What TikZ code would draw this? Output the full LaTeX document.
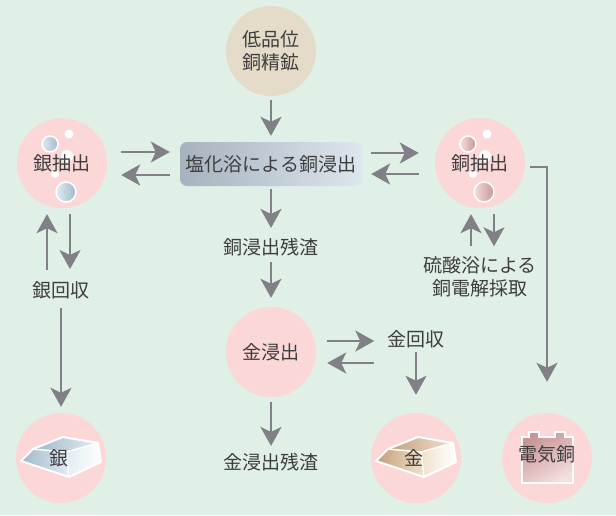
\documentclass[tikz,border=0pt]{standalone}
\usepackage{fontspec}
\setmainfont{Noto Sans CJK JP}
\usetikzlibrary{arrows.meta, positioning, calc}

\definecolor{bgmint}{RGB}{224,240,230}
\definecolor{discpink}{RGB}{252,215,215}
\definecolor{orebeige}{RGB}{229,219,201}
\definecolor{arrgray}{RGB}{128,128,134}
\definecolor{txtgray}{RGB}{62,62,62}
\definecolor{agDark}{RGB}{160,184,200}
\definecolor{agLight}{RGB}{226,236,243}
\definecolor{boxDark}{RGB}{166,178,189}
\definecolor{boxLight}{RGB}{222,230,238}
\definecolor{auDark}{RGB}{192,160,122}
\definecolor{auLight}{RGB}{242,225,205}
\definecolor{cuDark}{RGB}{200,148,150}
\definecolor{cuLight}{RGB}{244,222,222}

% bubbles inside an extraction disc
\newcommand{\bubbles}[3]{%
  \begin{scope}[shift={(#1)}]
    \fill[white] (7,-29) circle (4.5);
    \fill[white] (5,-7) circle (6);
    \fill[white] (-7,11) circle (4);
    \shade[draw=white, line width=1.5pt, left color=#3, right color=#2] (-12,-19) circle (8);
    \shade[draw=white, line width=1.5pt, left color=#3, right color=#2] (4,29) circle (10);
  \end{scope}}

% metal ingot on a disc
\newcommand{\ingot}[3]{%
  \begin{scope}[shift={(#1)}]
    \shade[left color=#2, right color=#3] (-40,3) -- (-28,-9) -- (5,-6) -- (8,19) -- cycle;
    \shade[left color=#2, right color=#3] (-28,-9) -- (2,-21) -- (37,-15) -- (5,-6) -- cycle;
    \shade[left color=#3, right color=white] (5,-6) -- (37,-15) -- (40,4) -- (8,19) -- cycle;
    \draw[white, line width=2pt, line join=round] (-40,3) -- (-28,-9) -- (2,-21) -- (37,-15) -- (40,4) -- (8,19) -- cycle;
    \draw[white, line width=1.5pt] (-28,-9) -- (5,-6) -- (37,-15) (5,-6) -- (8,19);
  \end{scope}}

\begin{document}
\begin{tikzpicture}[x=1pt, y=-1pt,
  disc/.style={circle, fill=discpink, minimum size=90pt, inner sep=0pt},
  txt/.style={text=txtgray, font=\fontsize{19pt}{23.5pt}\selectfont, align=center, inner sep=1pt},
  arr/.style={draw=arrgray, line width=2.6pt, -{Stealth[length=19pt,width=21pt,inset=5pt]}}]

\fill[bgmint] (0,0) rectangle (616,515);
\useasboundingbox (0,0) rectangle (616,515);

% Ore and chloride leaching
\node[disc, fill=orebeige, txt] (ore) at (271,51) {低品位\\銅精鉱};
\node[txt, rounded corners=7pt, minimum width=182pt, minimum height=44pt,
      left color=boxDark, right color=boxLight] (leach) at (271,164) {塩化浴による銅浸出};

% Extraction discs
\node[disc] (silv) at (62,163) {};
\bubbles{silv}{agDark}{agLight}
\node[txt] (silvtxt) at (silv) {銀抽出};

\node[disc] (copx) at (480,163) {};
\bubbles{copx}{cuDark}{cuLight}
\node[txt] (copxtxt) at (copx) {銅抽出};

% Residues and recoveries
\node[txt] (res1) at (271,247) {銅浸出残渣};
\node[disc, txt] (goldlx) at (271,352) {金浸出};
\node[txt] (goldrec) at (416,339) {金回収};
\node[txt] (res2) at (271,462) {金浸出残渣};
\node[txt] (silrec) at (61,290) {銀回収};
\node[txt] (elec) at (480,277) {硫酸浴による\\銅電解採取};

% Products
\node[disc] (silver) at (61,458) {};
\ingot{silver}{agDark}{agLight}
\node[txt] (silvertxt) at ([xshift=-2pt]silver) {銀};

\node[disc] (gold) at (416,458) {};
\ingot{gold}{auDark}{auLight}
\node[txt] (goldtxt) at ([xshift=-2pt]gold) {金};

\node[disc] (cath) at (547,458) {};
\shade[draw=white, line width=1.5pt, left color=cuDark, right color=cuLight, shading angle=30]
  ($(cath)+(-25,25)$) -- ++(0,-46) -- ++(7,0) -- ++(0,-5) -- ++(10,0) -- ++(0,5)
  -- ++(16,0) -- ++(0,-5) -- ++(10,0) -- ++(0,5) -- ++(8,0) -- ++(0,46) -- cycle;
\node[txt] (cathtxt) at ([yshift=4pt]cath) {電気銅};

% Flow arrows
\draw[arr, shorten <=4pt, shorten >=6pt] (ore) -- (leach);

\draw[arr, shorten <=14pt, shorten >=10pt] ([yshift=11pt]silv.east) -- ([yshift=11pt]silv.east -| leach.west);
\draw[arr, shorten <=10pt, shorten >=14pt] ([yshift=-11pt]leach.west) -- ([yshift=-11pt]leach.west -| silv.east);
\draw[arr, shorten <=9pt, shorten >=16pt] ([yshift=11pt]leach.east) -- ([yshift=11pt]leach.east -| copx.west);
\draw[arr, shorten <=16pt, shorten >=9pt] ([yshift=-11pt]copx.west) -- ([yshift=-11pt]copx.west -| leach.east);

\draw[arr, shorten <=3pt, shorten >=9pt] (leach) -- (res1);
\draw[arr, shorten <=5pt, shorten >=9pt] (res1) -- (goldlx);
\draw[arr, shorten <=5pt, shorten >=6pt] (goldlx) -- (res2);

\draw[arr, shorten <=11pt, shorten >=12pt] ([yshift=11pt]goldlx.east) -- ([yshift=11pt]goldlx.east -| goldrec.west);
\draw[arr, shorten <=12pt, shorten >=11pt] ([yshift=-11pt]goldlx.east -| goldrec.west) -- ([yshift=-11pt]goldlx.east);
\draw[arr, shorten <=3pt, shorten >=18pt] (goldrec) -- (gold);

\draw[arr, shorten <=10pt, shorten >=6pt] ([xshift=-14pt]silrec.north) -- ([xshift=-14pt]silrec.north |- silv.south);
\draw[arr, shorten <=6pt, shorten >=11pt] ([xshift=8pt]silv.south) -- ([xshift=8pt]silv.south |- silrec.north);
\draw[arr, shorten <=8pt, shorten >=6pt] (silrec) -- (silver);

\draw[arr, shorten <=9pt, shorten >=6pt] ([xshift=-9pt]elec.north) -- ([xshift=-9pt]elec.north |- copx.south);
\draw[arr, shorten <=6pt, shorten >=9pt] ([xshift=14pt]copx.south) -- ([xshift=14pt]copx.south |- elec.north);

\draw[arr, line width=2pt, shorten <=5pt, shorten >=31pt] ([yshift=-4pt]copx.east) -| (cath.north);
\end{tikzpicture}
\end{document}
